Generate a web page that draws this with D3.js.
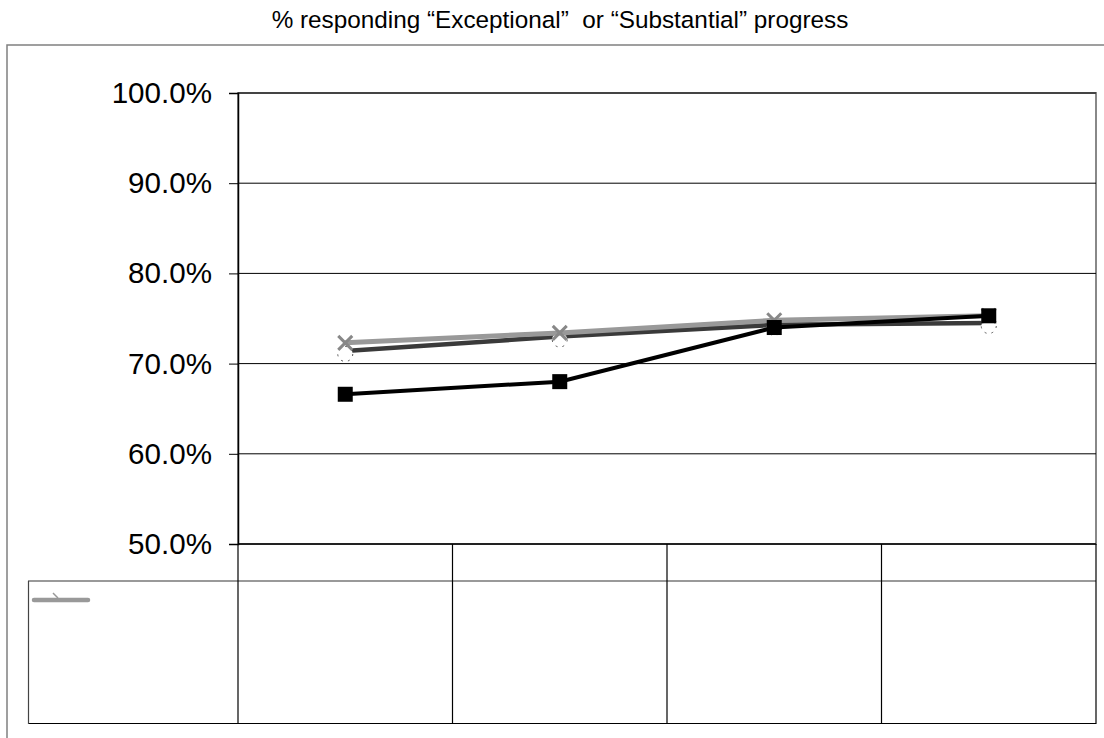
<!DOCTYPE html>
<html><head><meta charset="utf-8">
<script src="https://cdn.jsdelivr.net/npm/d3@7/dist/d3.min.js"></script>
<style>body{margin:0;background:#fff;}svg{display:block;font-family:"Liberation Sans",Arial,sans-serif;}</style>
</head><body>
<svg id="c" width="1104" height="738"></svg>
<script>
const categories = ["Q1", "Q2", "Q3", "Q4"];
const seriesDark = [71.4, 73.0, 74.3, 74.5];
const seriesLight = [72.3, 73.4, 74.8, 75.3];
const seriesBlack = [66.6, 68.0, 74.0, 75.3];
const yTicks = [50, 60, 70, 80, 90, 100];
const titleText = "% responding \u201cExceptional\u201d  or \u201cSubstantial\u201d progress";

const svg = d3.select("#c");
const L = 238, R = 1096, T = 93, B = 544;
const x = d3.scaleBand().domain(categories).range([L, R]);
const y = d3.scaleLinear().domain([50, 100]).range([B, T]);
const cx = d => x(d) + x.bandwidth() / 2;

// outer chart border
svg.append("rect").attr("x", 7).attr("y", 45).attr("width", 1200).attr("height", 800)
  .attr("fill", "none").attr("stroke", "#808080").attr("stroke-width", 1.5);

// title
svg.append("text").attr("x", 560).attr("y", 28).attr("text-anchor", "middle")
  .attr("font-size", 24.3).style("white-space", "pre").attr("fill", "#000").text(titleText);

// plot area border
svg.append("rect").attr("x", L).attr("y", T).attr("width", R - L).attr("height", B - T)
  .attr("fill", "none").attr("stroke", "#888").attr("stroke-width", 2);

// gridlines
svg.append("g").selectAll("line").data(yTicks.filter(v => v > 50)).join("line")
  .attr("x1", L).attr("x2", R).attr("y1", d => y(d)).attr("y2", d => y(d))
  .attr("stroke", "#000").attr("stroke-width", 1);

// y axis
const yAxis = d3.axisLeft(y).tickValues(yTicks).tickSize(9).tickPadding(17)
  .tickFormat(d => d.toFixed(1) + "%");
const gy = svg.append("g").attr("transform", `translate(${L},0)`).call(yAxis);
gy.select(".domain").attr("stroke", "#000").attr("stroke-width", 1.5);
gy.selectAll(".tick line").attr("stroke", "#000");
gy.selectAll(".tick text").attr("font-size", 29.6).attr("fill", "#000")
  .attr("font-family", "'Liberation Sans',Arial,sans-serif");

// data table
const tb = svg.append("g");
tb.append("line").attr("x1", L).attr("x2", R).attr("y1", B).attr("y2", B).attr("stroke", "#000").attr("stroke-width", 1.5);
tb.append("line").attr("x1", 28).attr("x2", R).attr("y1", 581).attr("y2", 581).attr("stroke", "#777").attr("stroke-width", 1.5);
tb.append("line").attr("x1", 28).attr("x2", R).attr("y1", 723.5).attr("y2", 723.5).attr("stroke", "#000").attr("stroke-width", 1.2);
tb.append("line").attr("x1", 28.5).attr("x2", 28.5).attr("y1", 581).attr("y2", 724).attr("stroke", "#444").attr("stroke-width", 1.2);
const vx = categories.map(c => x(c)).concat([R]);
tb.selectAll("line.v").data(vx).join("line").attr("class", "v")
  .attr("x1", d => d).attr("x2", d => d).attr("y1", B).attr("y2", 724)
  .attr("stroke", "#000").attr("stroke-width", 1.2);

// legend key
tb.append("line").attr("x1", 34).attr("x2", 88).attr("y1", 600).attr("y2", 600)
  .attr("stroke", "#999").attr("stroke-width", 4.5).attr("stroke-linecap", "round");
tb.append("line").attr("x1", 53).attr("x2", 58).attr("y1", 593).attr("y2", 598)
  .attr("stroke", "#999").attr("stroke-width", 1.5);

const line = d3.line().x((d, i) => cx(categories[i])).y(d => y(d));

// dark series
svg.append("path").datum(seriesDark).attr("d", line).attr("fill", "none")
  .attr("stroke", "#3a3a3a").attr("stroke-width", 4.5);
svg.append("g").selectAll("circle").data(seriesDark).join("circle")
  .attr("cx", (d, i) => cx(categories[i])).attr("cy", d => y(d) + 3).attr("r", 7.5)
  .attr("fill", "#fff").attr("stroke", "#555").attr("stroke-width", 1).attr("stroke-dasharray", "2,5");

// light series
svg.append("path").datum(seriesLight).attr("d", line).attr("fill", "none")
  .attr("stroke", "#999").attr("stroke-width", 5);
const xm = svg.append("g");
seriesLight.forEach((v, i) => {
  const px = cx(categories[i]), py = y(v);
  xm.append("path").attr("d", `M${px-7},${py-7}L${px+7},${py+7}M${px+7},${py-7}L${px-7},${py+7}`)
    .attr("stroke", "#888").attr("stroke-width", 3);
});

// black series
svg.append("path").datum(seriesBlack).attr("d", line).attr("fill", "none")
  .attr("stroke", "#000").attr("stroke-width", 4);
svg.append("g").selectAll("rect").data(seriesBlack).join("rect")
  .attr("x", (d, i) => cx(categories[i]) - 7.5).attr("y", d => y(d) - 7.5)
  .attr("width", 15).attr("height", 15).attr("fill", "#000");
</script>
</body></html>
